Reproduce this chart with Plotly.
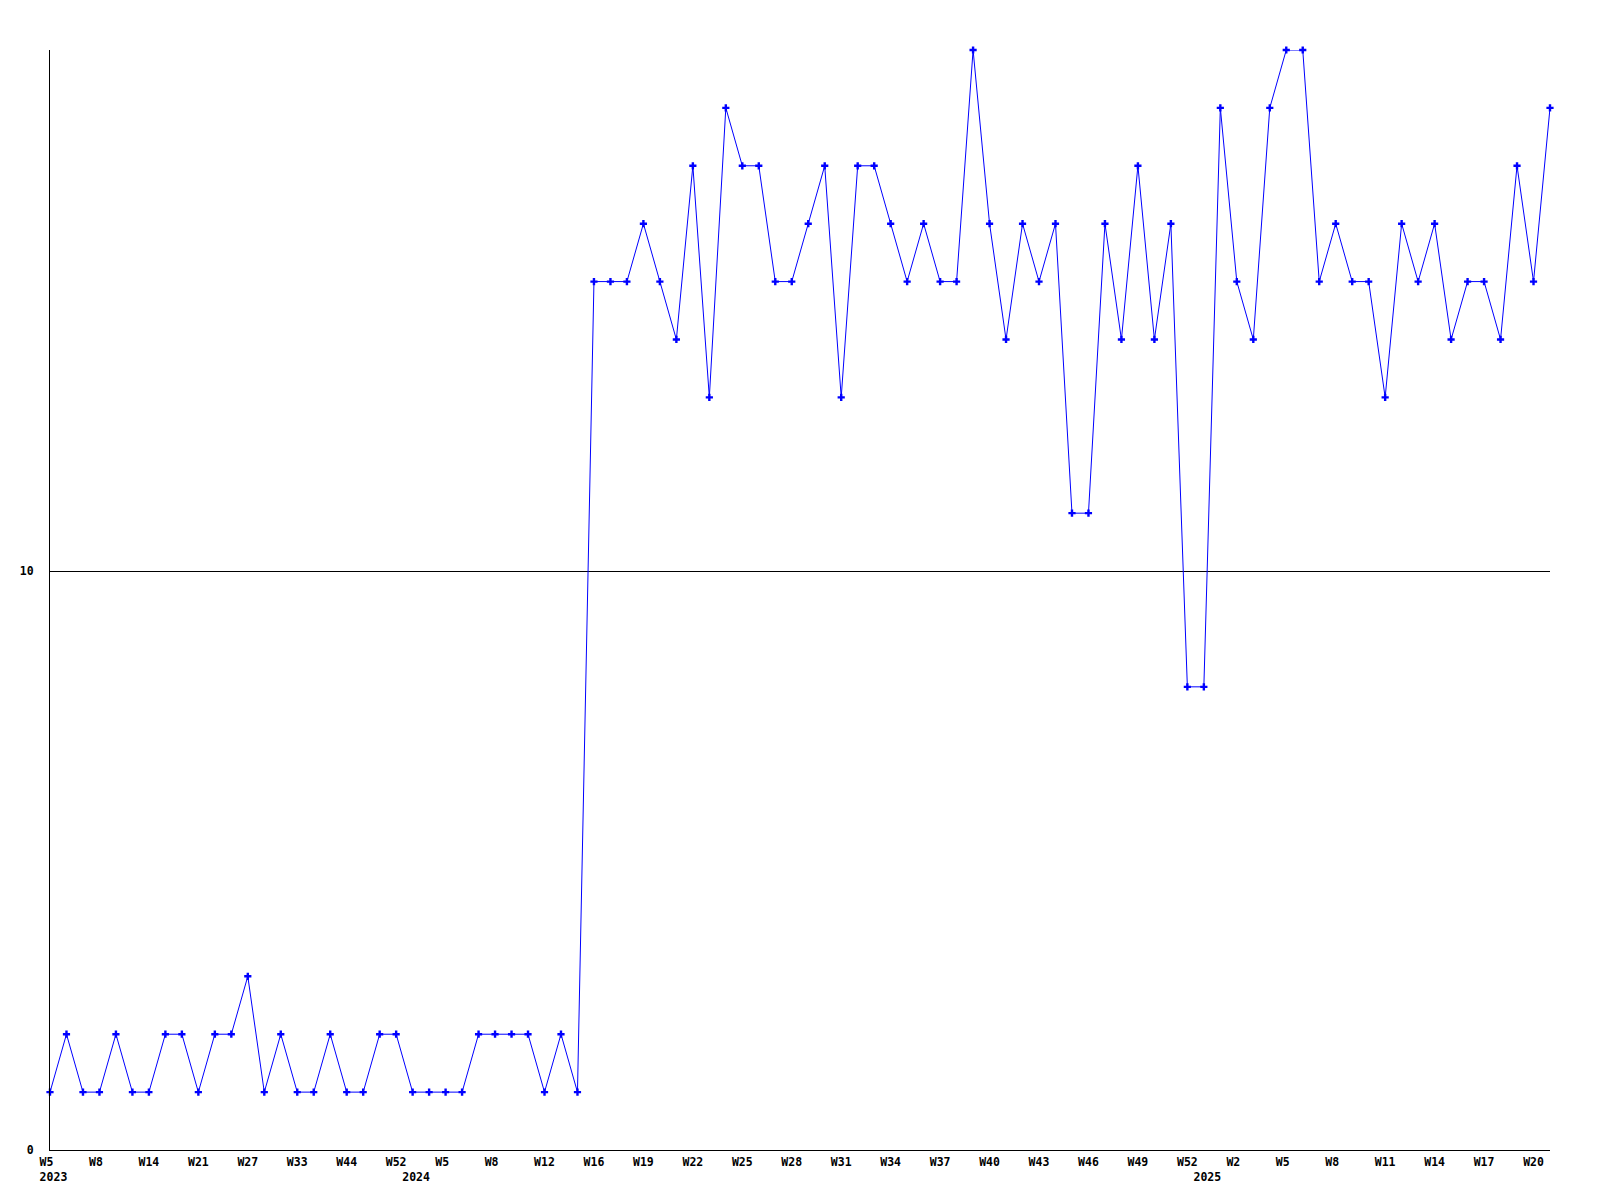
import plotly.graph_objects as go

# ---- data ----
weeks_2023 = [5, 6, 7, 8, 10, 12, 14, 16, 18, 21, 23, 25, 27, 29, 31, 33, 37, 40, 44, 47, 50, 52]
weeks_2024 = [1, 3, 5, 6, 7, 8, 9, 11, 12, 13, 15,
              16, 17, 18, 19, 20, 21, 22, 23, 24, 25, 26, 27, 28, 29, 30, 31, 32, 33, 34,
              35, 36, 37, 38, 39, 40, 41, 42, 43, 44, 45, 46, 47, 48, 49, 50, 51, 52]
weeks_2025 = [0, 1, 2, 3, 4, 5, 6, 7, 8, 9, 10, 11, 12, 13, 14, 15, 16, 17, 18, 19, 20, 21]

values_2023 = [1, 2, 1, 1, 2, 1, 1, 2, 2, 1, 2, 2, 3, 1, 2, 1, 1, 2, 1, 1, 2, 2]
values_2024 = [1, 1, 1, 1, 2, 2, 2, 2, 1, 2, 1,
               15, 15, 15, 16, 15, 14, 17, 13, 18, 17, 17, 15, 15, 16, 17, 13, 17, 17, 16,
               15, 16, 15, 15, 19, 16, 14, 16, 15, 16, 11, 11, 16, 14, 17, 14, 16, 8]
values_2025 = [8, 18, 15, 14, 18, 19, 19, 15, 16, 15, 15, 13, 16, 15, 16, 14, 15, 15, 14, 17, 15, 18]

y_ticks = [0, 10]
label_step = 3

# ---- build ----
weeks = weeks_2023 + weeks_2024 + weeks_2025
years = [2023] * len(weeks_2023) + [2024] * len(weeks_2024) + [2025] * len(weeks_2025)
values = values_2023 + values_2024 + values_2025
x = list(range(len(values)))

NB = "\u00a0"
tickvals, ticktext = [], []
for i in range(0, len(x), label_step):
    lab = f"W{weeks[i]}"
    if len(lab) == 2:
        lab = lab + NB
    if i == 0:
        lab += "<br>" + NB + str(years[i])
    tickvals.append(i)
    ticktext.append(lab)
for i in range(1, len(x)):
    if years[i] != years[i - 1]:
        if i in tickvals:
            ticktext[tickvals.index(i)] += "<br>" + NB + str(years[i])
        else:
            tickvals.append(i)
            ticktext.append("<br>" + NB + str(years[i]))

tick_font = dict(family="DejaVu Sans Mono", size=11.5, color="black", weight="bold")

fig = go.Figure()
fig.add_trace(go.Scatter(
    x=x, y=values, mode="lines+markers",
    line=dict(color="#0000ff", width=1),
    marker=dict(symbol="cross", size=6, color="#0000ff", line=dict(width=0)),
    cliponaxis=False,
    showlegend=False,
))

fig.update_layout(
    width=1600, height=1200,
    margin=dict(l=50, r=50, t=50, b=50),
    paper_bgcolor="white", plot_bgcolor="white",
    font=dict(family="DejaVu Sans Mono", size=11.5, color="black"),
)
fig.update_xaxes(
    range=[0, len(x) - 1], tickmode="array", tickvals=tickvals, ticktext=ticktext,
    tickangle=0, showgrid=False, zeroline=False, showline=True, linecolor="black",
    linewidth=1, ticks="outside", ticklen=1, tickcolor="rgba(0,0,0,0)",
    tickfont=tick_font,
)
fig.update_yaxes(
    range=[0, 19], tickmode="array", tickvals=y_ticks, ticktext=[str(v) for v in y_ticks],
    showgrid=True, gridcolor="black", gridwidth=1, zeroline=False, showline=True,
    linecolor="black", linewidth=1, ticks="outside", ticklen=13,
    tickcolor="rgba(0,0,0,0)",
    tickfont=tick_font,
)

fig.write_html("out.html", config={"displayModeBar": False},
               post_script="document.body.style.margin='0px';")
